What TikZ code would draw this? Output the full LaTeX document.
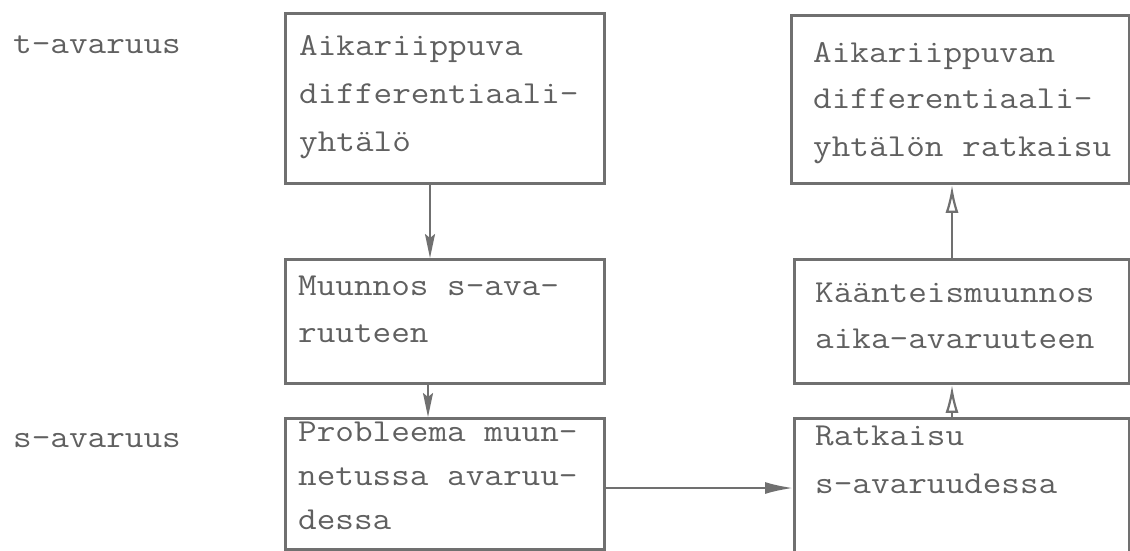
\documentclass[tikz,border=0pt]{standalone}
\usepackage{fontspec}
\setmonofont{Latin Modern Mono}[FakeStretch=1.13]
\usetikzlibrary{arrows.meta}
\definecolor{ink}{RGB}{112,112,112}
\definecolor{tink}{RGB}{96,96,96}
\begin{document}
\begin{tikzpicture}[x=1pt,y=-1pt,
  box/.style={draw=ink, line width=2.8pt, rectangle, inner sep=0pt, anchor=north west},
  txt/.style={text=tink, font=\ttfamily\fontsize{32}{45}\selectfont, anchor=base west, inner sep=0pt},
  arrdown/.style={draw=ink, line width=2.2pt, -{Stealth[length=24pt,width=10pt,inset=4pt]}},
  arrup/.style={draw=ink, line width=2.2pt, -{Latex[open,fill=white,length=28pt,width=13pt]}},
  arrright/.style={draw=ink, line width=2.2pt, -{Latex[length=28pt,width=12pt]}}]
\useasboundingbox (0,0) rectangle (1130,550);

% boxes
\node[box, minimum width=319pt, minimum height=170pt] (A) at (284,12) {};
\node[box, minimum width=319pt, minimum height=124pt] (B) at (284,258) {};
\node[box, minimum width=319pt, minimum height=131pt] (C) at (284,417) {};
\node[box, minimum width=338pt, minimum height=168pt] (D) at (790,14) {};
\node[box, minimum width=335pt, minimum height=124pt] (E) at (793,258) {};
\node[box, minimum width=335pt, minimum height=150pt] (F) at (793,417) {};

% side labels
\node[txt] (lt) at (13,53) {t-avaruus};
\node[txt] (ls) at (13,447) {s-avaruus};

% box texts
\node[txt] (a1) at (299,55) {Aikariippuva};
\node[txt] (a2) at (299,103) {differentiaali-};
\node[txt] (a3) at (299,151) {yhtälö};

\node[txt] (b1) at (298,295) {Muunnos s-ava-};
\node[txt] (b2) at (298,342) {ruuteen};

\node[txt] (c1) at (298,441) {Probleema muun-};
\node[txt] (c2) at (298,485) {netussa avaruu-};
\node[txt] (c3) at (298,529) {dessa};

\node[txt] (d1) at (813,62) {Aikariippuvan};
\node[txt] (d2) at (813,108) {differentiaali-};
\node[txt] (d3) at (813,156) {yhtälön ratkaisu};

\node[txt] (e1) at (815,302) {Käänteismuunnos};
\node[txt] (e2) at (815,348) {aika-avaruuteen};

\node[txt] (f1) at (815,445) {Ratkaisu};
\node[txt] (f2) at (815,493) {s-avaruudessa};

% connectors
\draw[arrdown] ([xshift=146pt]A.south west) -- ([xshift=146pt]B.north west);
\draw[arrdown] ([xshift=144pt]B.south west) -- ([xshift=144pt]C.north west);
\draw[arrright] ([yshift=-71pt]C.north east) -- ([yshift=-71pt]F.north west);
\draw[arrup] ([xshift=159pt]F.north west) -- ([xshift=159pt]E.south west);
\draw[arrup] ([xshift=159pt]E.north west) -- ([xshift=162pt]D.south west);
\end{tikzpicture}
\end{document}
